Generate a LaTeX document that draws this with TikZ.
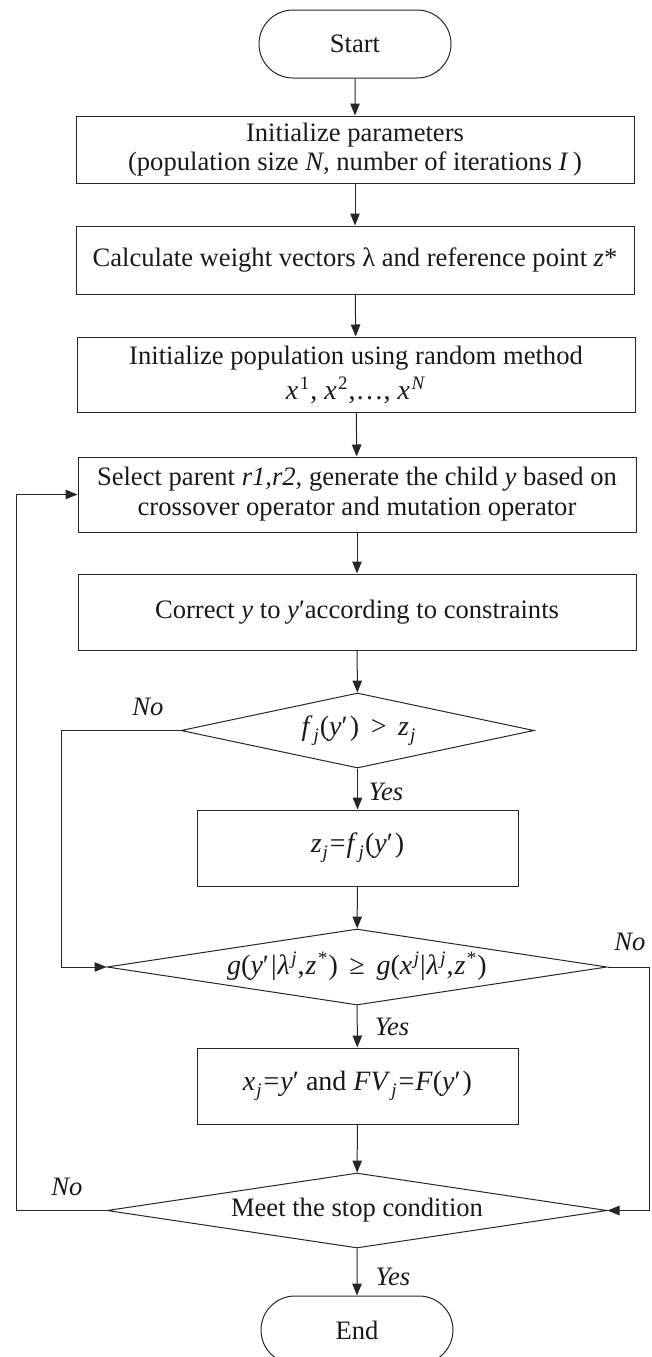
\documentclass[tikz,border=0pt]{standalone}
\usepackage{fontspec}
\setmainfont{Liberation Serif}
\usetikzlibrary{shapes.geometric,shapes.misc,arrows.meta}
% italic helpers for the formulas
\newcommand{\iv}[1]{\textit{#1}}
\newcommand{\smallidx}[1]{{\fontsize{19}{19}\selectfont #1}}
\newcommand{\isub}[2]{\textit{#1}\kern1pt\raisebox{-6pt}{\smallidx{\textit{#2}}}\kern1pt}
\newcommand{\isup}[2]{\textit{#1}\kern1.5pt\raisebox{10pt}{\smallidx{#2}}\kern1pt}
\newcommand{\fml}{\fontsize{28}{30}\selectfont}
\begin{document}
\begin{tikzpicture}[x=1pt,y=-1pt,
  every node/.style={font=\fontsize{26.6}{29}\selectfont, text=black!90},
  flow/.style={draw=black!85, line width=1pt},
  proc/.style={flow, rectangle, inner sep=0pt, align=center},
  term/.style={flow, rounded rectangle, minimum width=192pt, minimum height=68pt, inner sep=0pt},
  cond/.style={flow, diamond, inner sep=0pt},
  arr/.style={draw=black!85, line width=1pt, -{Triangle[length=12pt,width=9.5pt]}},
  lbl/.style={font=\fontsize{26.6}{29}\selectfont\itshape, inner sep=0pt}
]
\clip (0,0) rectangle (651,1357);

% terminals and process boxes
\node[term] (start) at (355,44) {Start};
\node[proc, minimum width=558pt, minimum height=67pt] (b1) at (355,149.5)
  {Initialize parameters\\(population size \iv{N}, number of iterations \iv{I}\,)};
\node[proc, minimum width=558pt, minimum height=68pt] (b2) at (355,260)
  {Calculate weight vectors λ and reference point \iv{z}*};
\node[proc, minimum width=558pt, minimum height=75pt, font=\fontsize{26.6}{35}\selectfont] (b3) at (356,374.5)
  {Initialize population using random method\\{\fml\isup{x}{1}, \isup{x}{2},…, \isup{x}{\textit{N}}}};
\node[proc, minimum width=558pt, minimum height=75pt, font=\fontsize{26.6}{30}\selectfont] (b4) at (357,494.5)
  {Select parent \iv{r1,r2}, generate the child \iv{y} based on\\crossover operator and mutation operator};
\node[proc, minimum width=558pt, minimum height=76pt] (b5) at (357,612)
  {Correct \iv{y} to \iv{y}′according to constraints};

% first test
\node[cond, minimum width=353pt, minimum height=75pt] (d1) at (357.5,730.5) {};
\node[font=\fml] (t1) at (359,731) {\isub{f}{j}(\iv{y}′\kern2pt) \,>\, \isub{z}{j}};
\node[proc, minimum width=321pt, minimum height=76pt, font=\fml] (b6) at (357.5,848)
  {\isub{z}{j}\kern1pt=\kern1pt\isub{f}{j}(\iv{y}′\kern2pt)};

% second test
\node[cond, minimum width=500pt, minimum height=76pt] (d2) at (357,967) {};
\node[font=\fml] (t2) at (357,966)
  {\iv{g}(\iv{y}′\kern2pt|\kern1pt\isup{λ}{\textit{j}},\kern1pt\isup{z}{*}) \,≥\, \iv{g}(\isup{x}{\textit{j}}|\kern1pt\isup{λ}{\textit{j}},\kern1pt\isup{z}{*})};
\node[proc, minimum width=321pt, minimum height=76pt, font=\fml] (b7) at (357.5,1086)
  {\isub{x}{j}\kern1pt=\kern1pt\iv{y}′ and \isub{FV}{j}\kern1pt=\kern1pt\iv{F}(\iv{y}′\kern2pt)};

% stop test and end
\node[cond, minimum width=500pt, minimum height=75pt] (d3) at (357,1210.5) {};
\node (t3) at (d3) {Meet the stop condition};
\node[term] (end) at (357,1330) {End};

% bend columns
\coordinate (colA) at (61,0);
\coordinate (colB) at (649,0);
\coordinate (colC) at (16,0);

% main flow
\draw[arr] (start) -- (b1);
\draw[arr] (b1) -- (b2);
\draw[arr] (b2) -- (b3);
\draw[arr] (b3) -- (b4);
\draw[arr] (b4) -- (b5);
\draw[arr] (b5) -- (d1);
\draw[arr] (d1) -- (b6);
\draw[arr] (b6) -- (d2);
\draw[arr] (d2) -- (b7);
\draw[arr] (b7) -- (d3);
\draw[arr] (d3) -- (end);

% side branches
\draw[arr] (d1.west) -- (d1.west -| colA) |- (d2.west);
\draw[arr] (d2.east) -- (d2.east -| colB) |- (d3.east);
\draw[arr] (d3.west) -- (d3.west -| colC) |- (b4.west);

% branch labels
\node[lbl] (n1) at (148,707) {No};
\node[lbl] (y1) at (386,792) {Yes};
\node[lbl] (n2) at (630,942) {No};
\node[lbl] (y2) at (392,1027) {Yes};
\node[lbl] (n3) at (67,1187) {No};
\node[lbl] (y3) at (393,1277) {Yes};
\end{tikzpicture}
\end{document}
